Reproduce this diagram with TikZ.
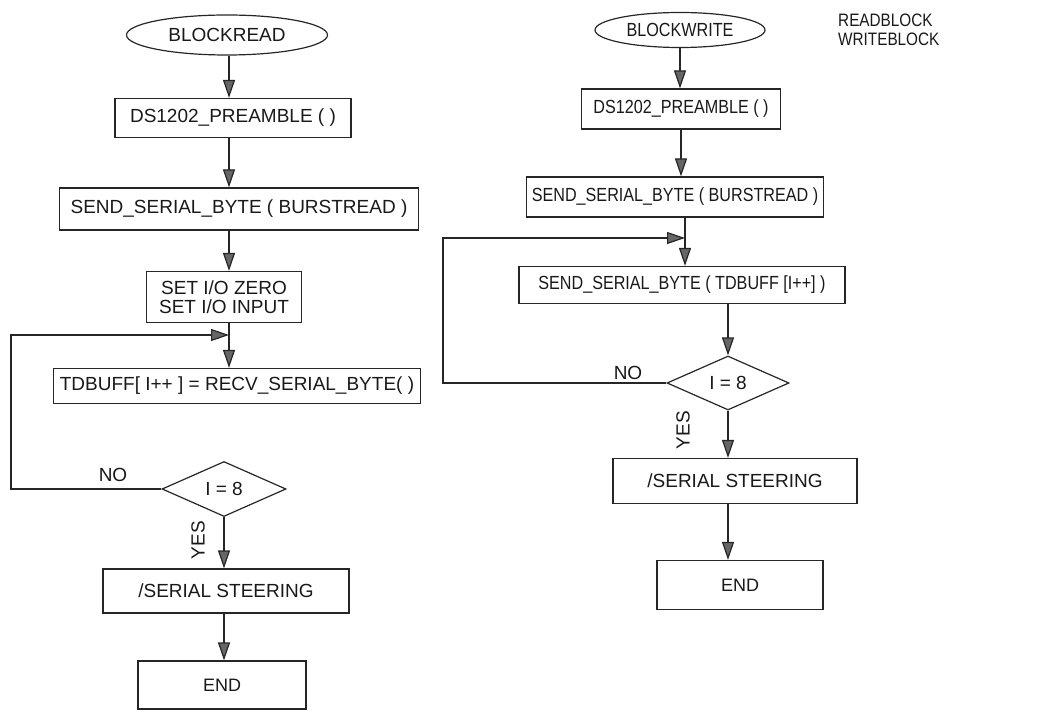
\documentclass[tikz,border=0pt]{standalone}
\usepackage{fontspec}
\setmainfont{Liberation Sans}
\newfontfamily\narrowsans[FakeStretch=0.85]{Liberation Sans}
\usetikzlibrary{shapes.geometric,arrows.meta}
\begin{document}
\begin{tikzpicture}[x=1pt,y=-1pt,
  every node/.style={font=\fontsize{19}{22}\selectfont, text=black!90},
  smallfont/.style={font=\narrowsans\fontsize{19}{22}\selectfont},
  box/.style={draw=black!85, line width=1.2pt, rectangle, inner sep=0pt, align=center},
  term/.style={draw=black!85, line width=1.2pt, ellipse, inner sep=0pt},
  dec/.style={draw=black!85, line width=1.2pt, diamond, inner sep=0pt},
  lbl/.style={inner sep=0pt},
  arr/.style={draw=black!85, line width=1.2pt, -{Triangle[length=18pt,width=12pt,fill=black!60]}},
  ln/.style={draw=black!85, line width=1.2pt}]
\useasboundingbox (0,0) rectangle (1038,711);

% ---------- left column ----------
\node[term, minimum width=201pt, minimum height=40pt] (s1) at (227,35) {BLOCKREAD};
\node[box, minimum width=236pt, minimum height=39pt] (p1) at (233,118) {DS1202\_PREAMBLE ( )};
\node[box, minimum width=359pt, minimum height=42pt] (b1) at (239,209) {SEND\_SERIAL\_BYTE ( BURSTREAD )};
\node[box, minimum width=155pt, minimum height=51pt, align=center] (z1) at (224,297) {SET I/O ZERO\\[-3pt]SET I/O INPUT};
\node[box, minimum width=367pt, minimum height=35pt] (t1) at (237,386) {TDBUFF[ I++ ] = RECV\_SERIAL\_BYTE( )};
\node[dec, minimum width=124pt, minimum height=55pt, aspect=2.25] (d1) at (224,489) {I = 8};
\node[box, minimum width=246pt, minimum height=44pt] (e1) at (226,591) {/SERIAL STEERING};
\node[box, minimum width=168pt, minimum height=48pt, font=\fontsize{18}{21}\selectfont] (n1) at (222,685) {END};
\coordinate (j1) at (229,335);
\coordinate (l1) at (11,335);
\node[lbl] (no1) at (113,475) {NO};
\node[lbl, rotate=90] (yes1) at (198,540) {YES};

\draw[arr] (s1.south -| j1) -- (p1.north -| j1);
\draw[arr] (p1.south -| j1) -- (b1.north -| j1);
\draw[arr] (b1.south -| j1) -- (z1.north -| j1);
\draw[arr] (z1.south -| j1) -- (t1.north -| j1);
\draw[arr] (d1.west) -| (l1) -- (j1);
\draw[arr] (d1.south) -- (d1.south |- e1.north);
\draw[arr] (e1.south -| d1.south) -- (n1.north -| d1.south);

% ---------- right column ----------
\node[term, smallfont, minimum width=170pt, minimum height=35pt] (s2) at (680,30) {BLOCKWRITE};
\node[box, smallfont, minimum width=199pt, minimum height=40pt] (p2) at (681,109) {DS1202\_PREAMBLE ( )};
\node[box, smallfont, minimum width=297pt, minimum height=40pt] (b2) at (675,197) {SEND\_SERIAL\_BYTE ( BURSTREAD )};
\node[box, smallfont, minimum width=326pt, minimum height=37pt] (t2) at (682,285) {SEND\_SERIAL\_BYTE ( TDBUFF [I++] )};
\node[dec, minimum width=122pt, minimum height=54pt, aspect=2.26] (d2) at (728,383) {I = 8};
\node[box, minimum width=244pt, minimum height=45pt] (e2) at (735,481) {/SERIAL STEERING};
\node[box, minimum width=166pt, minimum height=49pt, font=\fontsize{18}{21}\selectfont] (n2) at (740,585) {END};
\coordinate (j2) at (685,238);
\coordinate (l2) at (443,238);
\node[lbl] (no2) at (628,373) {NO};
\node[lbl, rotate=90] (yes2) at (683,430) {YES};

\node[lbl, anchor=north west, align=left, font=\narrowsans\fontsize{18}{18.5}\selectfont] (lg) at (838,14) {READBLOCK\\WRITEBLOCK};

\draw[arr] (s2.south) -- (s2.south |- p2.north);
\draw[arr] (p2.south) -- (p2.south |- b2.north);
\draw[arr] (b2.south -| j2) -- (t2.north -| j2);
\draw[arr] (d2.west) -| (l2) -- (j2);
\draw[arr] (t2.south -| d2.north) -- (d2.north);
\draw[arr] (d2.south) -- (d2.south |- e2.north);
\draw[arr] (e2.south -| d2.south) -- (n2.north -| d2.south);
\end{tikzpicture}
\end{document}
